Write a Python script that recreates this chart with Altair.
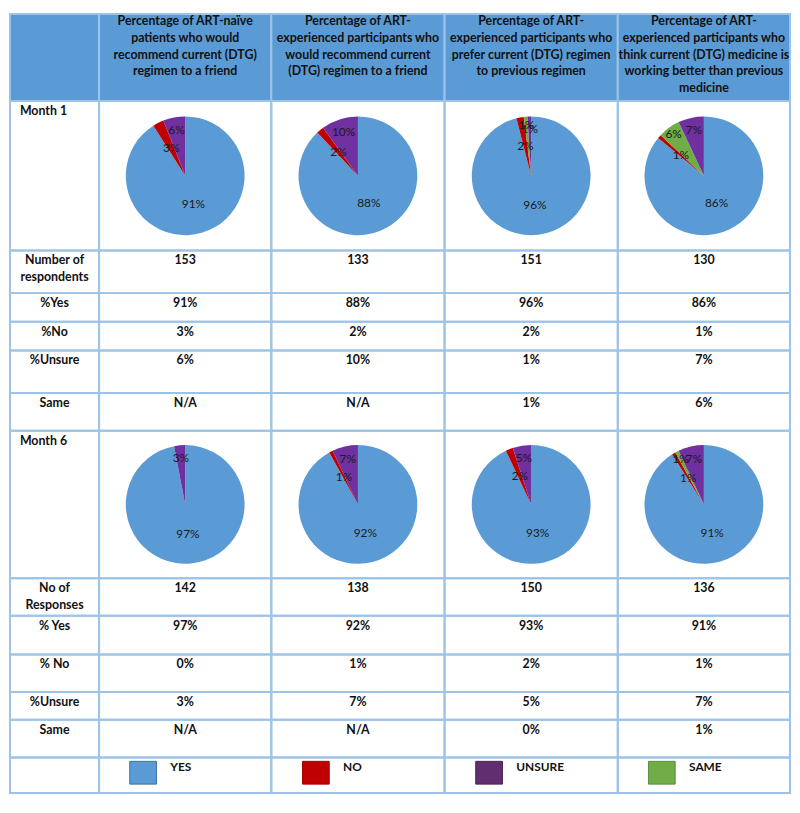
import math
import altair as alt
import pandas as pd

# ---------------- data ----------------
headers = [
    "Percentage of ART-naïve\npatients who would\nrecommend current (DTG)\nregimen to a friend",
    "Percentage of ART-\nexperienced participants who\nwould recommend current\n(DTG) regimen to a friend",
    "Percentage of ART-\nexperienced participants who\nprefer current (DTG) regimen\nto previous regimen",
    "Percentage of ART-\nexperienced participants who\nthink current (DTG) medicine is\nworking better than previous\nmedicine",
]
categories = ["YES", "NO", "SAME", "UNSURE"]          # clockwise slice order
legend_items = ["YES", "NO", "UNSURE", "SAME"]

m1_n = [153, 133, 151, 130]
m1_yes = [91, 88, 96, 86]
m1_no = [3, 2, 2, 1]
m1_unsure = [6, 10, 1, 7]
m1_same = [None, None, 1, 6]

m6_n = [142, 138, 150, 136]
m6_yes = [97, 92, 93, 91]
m6_no = [0, 1, 2, 1]
m6_unsure = [3, 7, 5, 7]
m6_same = [None, None, 0, 1]

m1_labels = ["Month 1", "Number of\nrespondents", "%Yes", "%No", "%Unsure", "Same"]
m6_labels = ["Month 6", "No of\nResponses", "% Yes", "% No", "%Unsure", "Same"]

# ---------------- style / layout ----------------
pie_colors = {"YES": "#5B9BD5", "NO": "#C00000", "UNSURE": "#7030A0", "SAME": "#70AD47"}
legend_fill = {"YES": "#5B9BD5", "NO": "#C00000", "UNSURE": "#612E70", "SAME": "#70AD47"}
legend_stroke = {"YES": "#41719C", "NO": "#A00000", "UNSURE": "#4A2256", "SAME": "#5A8F38"}
label_radius = {"YES": 30, "NO": 31, "UNSURE": 47, "SAME": 52}
GRID = "#9DC3E6"
HEAD_FILL = "#5B9BD5"
FONT = "Lato"
TXT = "#111111"

col_w = [90, 174, 175, 175, 174]
row_h = [88, 151, 43, 29, 29, 43, 38, 149, 38, 39, 38, 28, 38, 36]
PIE_R = 60


def text_cell(text, w, h, align="center", fill=None, size=12.5, y=4):
    df = pd.DataFrame({"t": [text]})
    x = w / 2 if align == "center" else 10
    ch = alt.Chart(df).mark_text(
        font=FONT, fontWeight="bold", fontSize=size, color=TXT,
        align=align, baseline="top", lineBreak="\n", lineHeight=17,
    ).encode(text="t:N", x=alt.value(x), y=alt.value(y))
    props = dict(width=w, height=h)
    if fill:
        props["view"] = alt.ViewBackground(fill=fill, stroke=GRID, strokeWidth=2)
    return ch.properties(**props)


def empty_cell(w, h, fill=None):
    return text_cell("", w, h, fill=fill)


def pie_cell(vals, w, h):
    rows = []
    cum = 0
    for cat in categories:
        v = vals[cat]
        if v is None:
            continue
        rows.append(dict(cat=cat, value=v, start=cum, end=cum + v,
                         mid=cum + v / 2, lbl=f"{v}%"))
        cum += v
    df = pd.DataFrame(rows)
    tscale = alt.Scale(domain=[0, 100], range=[0, 2 * math.pi])
    base = alt.Chart(df)
    arcs = base.mark_arc(radius=PIE_R).encode(
        theta=alt.Theta("start:Q", scale=tscale),
        theta2="end:Q",
        color=alt.Color("cat:N", scale=alt.Scale(domain=list(pie_colors),
                                                 range=list(pie_colors.values())),
                        legend=None),
        x=alt.value(w / 2), y=alt.value(h / 2),
    )
    layers = [arcs]
    for cat in categories:
        layers.append(
            base.transform_filter(f"datum.cat == '{cat}' && datum.value > 0")
            .mark_text(font=FONT, fontSize=12, color="#1a1a1a", radius=label_radius[cat])
            .encode(theta=alt.Theta("mid:Q", scale=tscale), text="lbl:N",
                    x=alt.value(w / 2), y=alt.value(h / 2))
        )
    return alt.layer(*layers).properties(width=w, height=h)


def legend_cell(cat, w, h):
    df = pd.DataFrame({"cat": [cat]})
    sq = alt.Chart(df).mark_rect(strokeWidth=1).encode(
        x=alt.value(w / 2 - 56), x2=alt.value(w / 2 - 29),
        y=alt.value(4), y2=alt.value(27),
        fill=alt.Fill("cat:N", scale=alt.Scale(domain=list(legend_fill),
                                               range=list(legend_fill.values())), legend=None),
        stroke=alt.Stroke("cat:N", scale=alt.Scale(domain=list(legend_stroke),
                                                   range=list(legend_stroke.values())), legend=None),
    )
    tx = alt.Chart(df).mark_text(
        font=FONT, fontWeight="bold", fontSize=12, color=TXT, align="left", baseline="top"
    ).encode(text="cat:N", x=alt.value(w / 2 - 15), y=alt.value(5))
    return alt.layer(sq, tx).properties(width=w, height=h)


def pct(v):
    return "N/A" if v is None else f"{v}%"


def month_block(labels, n, yes, no, unsure, same, heights):
    rows = []
    cells = [text_cell(labels[0], col_w[0], heights[0], align="left")]
    for i in range(4):
        vals = {"YES": yes[i], "NO": no[i], "UNSURE": unsure[i], "SAME": same[i]}
        cells.append(pie_cell(vals, col_w[i + 1], heights[0]))
    rows.append(cells)
    series = [[str(v) for v in n], [pct(v) for v in yes], [pct(v) for v in no],
              [pct(v) for v in unsure], [pct(v) for v in same]]
    for k, vals in enumerate(series):
        h = heights[k + 1]
        cells = [text_cell(labels[k + 1], col_w[0], h)]
        for i in range(4):
            cells.append(text_cell(vals[i], col_w[i + 1], h))
        rows.append(cells)
    return rows


all_rows = []
hdr = [empty_cell(col_w[0], row_h[0], fill=HEAD_FILL)]
for i, t in enumerate(headers):
    hdr.append(text_cell(t, col_w[i + 1], row_h[0], fill=HEAD_FILL, y=1))
all_rows.append(hdr)
all_rows += month_block(m1_labels, m1_n, m1_yes, m1_no, m1_unsure, m1_same, row_h[1:7])
all_rows += month_block(m6_labels, m6_n, m6_yes, m6_no, m6_unsure, m6_same, row_h[7:13])
leg = [empty_cell(col_w[0], row_h[13])]
for i, c in enumerate(legend_items):
    leg.append(legend_cell(c, col_w[i + 1], row_h[13]))
all_rows.append(leg)

cells = [c for r in all_rows for c in r]
chart = alt.concat(
    *cells, columns=5, spacing=0, bounds="flush",
).properties(padding=1).configure_view(stroke=GRID, strokeWidth=2)

chart.save("out.html", embed_options={"renderer": "svg", "actions": False})
